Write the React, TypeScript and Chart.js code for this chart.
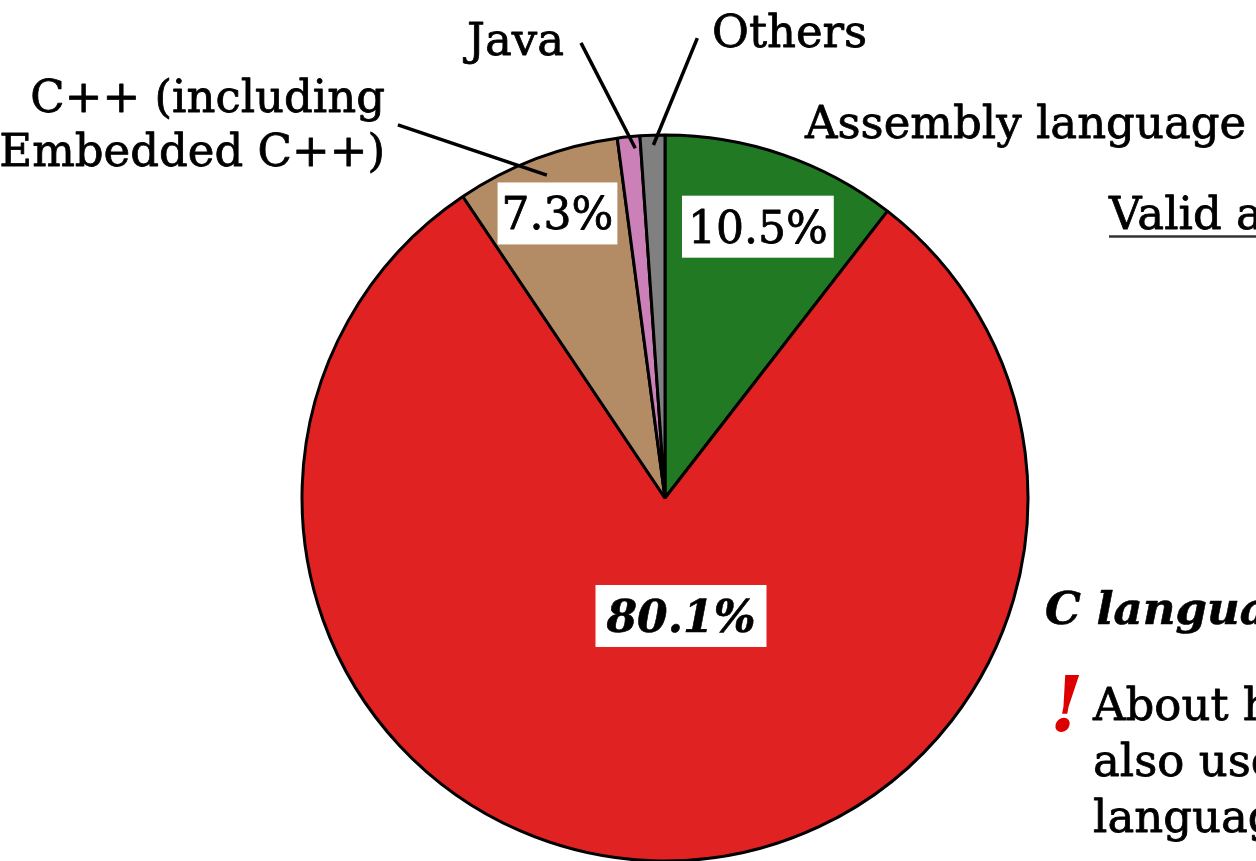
import React, { useEffect, useRef } from "react";
import { Chart, registerables } from "chart.js";

Chart.register(...registerables);

// ---- data ----
const categories = ["Assembly language", "C language", "C++ (including Embedded C++)", "Java", "Others"];
const shares = [10.5, 80.1, 7.3, 1.0, 1.1];
const sliceColors = ["#217a23", "#e02222", "#b38b65", "#cc80b8", "#808080"];
const calloutLines = [["Assembly language"], null, ["C++ (including", "Embedded C++)"], ["Java"], ["Others"]];
const sideTitle = "Valid answers";
const sideHeadline = "C language is dominant";
const sideNote = ["About half of them", "also use assembly", "language"];

// ---- layout (not data) ----
const FONT = "'DejaVu Serif', serif";
const pctLayout = [
  { index: 0, frac: 0.79, shift: 0, strong: false, padX: 6 },
  { index: 1, frac: 0.328, shift: -9.7, strong: true, padX: 11 },
  { index: 2, frac: 0.838, shift: 0, strong: false, padX: 4 },
];
const calloutLayout = [
  { index: 0, leader: false, innerFrac: 0, innerShift: 0, outerFrac: 0, outerShift: 0, x: 805, y: 138, align: "left" },
  { index: 2, leader: true, innerFrac: 0.947, innerShift: 0.6, outerFrac: 1.264, outerShift: -14.9, x: 385, y: 112, align: "right" },
  { index: 3, leader: true, innerFrac: 0.967, innerShift: 0.9, outerFrac: 1.275, outerShift: -4.7, x: 564, y: 55, align: "right" },
  { index: 4, leader: true, innerFrac: 0.973, innerShift: 0.1, outerFrac: 1.27, outerShift: 6.0, x: 712, y: 47, align: "left" },
];

const deg = Math.PI / 180;

function heavyText(ctx: CanvasRenderingContext2D, txt: string, x: number, y: number, weight = 0.8) {
  ctx.fillText(txt, x, y);
  ctx.lineWidth = weight;
  ctx.strokeStyle = ctx.fillStyle as string;
  ctx.lineJoin = "round";
  ctx.strokeText(txt, x, y);
}

const labelPlugin = {
  id: "pieLabels",
  afterDatasetsDraw(chart: any) {
    const ctx = chart.ctx as CanvasRenderingContext2D;
    const meta = chart.getDatasetMeta(0);
    ctx.save();
    ctx.textBaseline = "alphabetic";

    // percentage boxes
    for (const p of pctLayout) {
      const arc = meta.data[p.index] as any;
      const { x, y, startAngle, endAngle, outerRadius } = arc.getProps(["x", "y", "startAngle", "endAngle", "outerRadius"], true);
      const a = (startAngle + endAngle) / 2 + p.shift * deg;
      const cx = x + Math.cos(a) * outerRadius * p.frac;
      const cy = y + Math.sin(a) * outerRadius * p.frac;
      const txt = shares[p.index].toFixed(1) + "%";
      ctx.font = (p.strong ? "italic bold " : "") + "44px " + FONT;
      const w = ctx.measureText(txt).width;
      const bw = w + p.padX * 2;
      const bh = 62;
      ctx.fillStyle = "#ffffff";
      ctx.fillRect(cx - bw / 2, cy - bh / 2, bw, bh);
      ctx.fillStyle = "#000000";
      ctx.textAlign = "center";
      heavyText(ctx, txt, cx, cy + 16, p.strong ? 0.6 : 0.8);
    }

    // callouts
    for (const c of calloutLayout) {
      const arc = meta.data[c.index] as any;
      const { x, y, startAngle, endAngle, outerRadius } = arc.getProps(["x", "y", "startAngle", "endAngle", "outerRadius"], true);
      const mid = (startAngle + endAngle) / 2;
      if (c.leader) {
        const ai = mid + c.innerShift * deg;
        const ao = mid + c.outerShift * deg;
        ctx.beginPath();
        ctx.moveTo(x + Math.cos(ai) * outerRadius * c.innerFrac, y + Math.sin(ai) * outerRadius * c.innerFrac);
        ctx.lineTo(x + Math.cos(ao) * outerRadius * c.outerFrac, y + Math.sin(ao) * outerRadius * c.outerFrac);
        ctx.strokeStyle = "#000000";
        ctx.lineWidth = 3.5;
        ctx.lineCap = "butt";
        ctx.stroke();
      }
      const lines = calloutLines[c.index] || [];
      ctx.font = "45px " + FONT;
      ctx.fillStyle = "#000000";
      ctx.textAlign = c.align as CanvasTextAlign;
      lines.forEach((ln, k) => heavyText(ctx, ln, c.x, c.y + k * 54));
    }

    // side texts
    ctx.textAlign = "left";
    ctx.font = "45px " + FONT;
    ctx.fillStyle = "#000000";
    heavyText(ctx, sideTitle, 1109, 229);
    const tw = ctx.measureText(sideTitle).width;
    ctx.beginPath();
    ctx.moveTo(1109, 236.5);
    ctx.lineTo(1109 + tw, 236.5);
    ctx.strokeStyle = "#333333";
    ctx.lineWidth = 2.5;
    ctx.stroke();

    ctx.font = "italic bold 45px " + FONT;
    ctx.fillStyle = "#000000";
    heavyText(ctx, sideHeadline, 1045, 624, 0.6);

    ctx.font = "italic bold 76px " + FONT;
    ctx.fillStyle = "#dd0000";
    ctx.fillText("!", 1050, 731);

    ctx.font = "45px " + FONT;
    ctx.fillStyle = "#000000";
    sideNote.forEach((ln, k) => heavyText(ctx, ln, 1093, 720 + k * 56));

    ctx.restore();
  },
};

export default function App() {
  const ref = useRef<HTMLCanvasElement | null>(null);
  useEffect(() => {
    document.body.style.margin = "0";
    document.body.style.overflow = "hidden";
    const chart = new Chart(ref.current as HTMLCanvasElement, {
      type: "pie",
      data: {
        labels: categories,
        datasets: [
          {
            data: shares,
            backgroundColor: sliceColors,
            borderColor: "#000000",
            borderWidth: 3,
            radius: 363,
          } as any,
        ],
      },
      options: {
        responsive: false,
        animation: false,
        devicePixelRatio: 1,
        layout: { padding: { left: 302, right: 228, top: 135, bottom: 0 } },
        plugins: { legend: { display: false }, tooltip: { enabled: false } },
      },
      plugins: [labelPlugin],
    });
    return () => chart.destroy();
  }, []);
  return (
    <div style={{ position: "fixed", left: 0, top: 0, width: 1256, height: 861, background: "#fff" }}>
      <canvas ref={ref} width={1256} height={861} style={{ display: "block", width: 1256, height: 861 }} />
    </div>
  );
}
